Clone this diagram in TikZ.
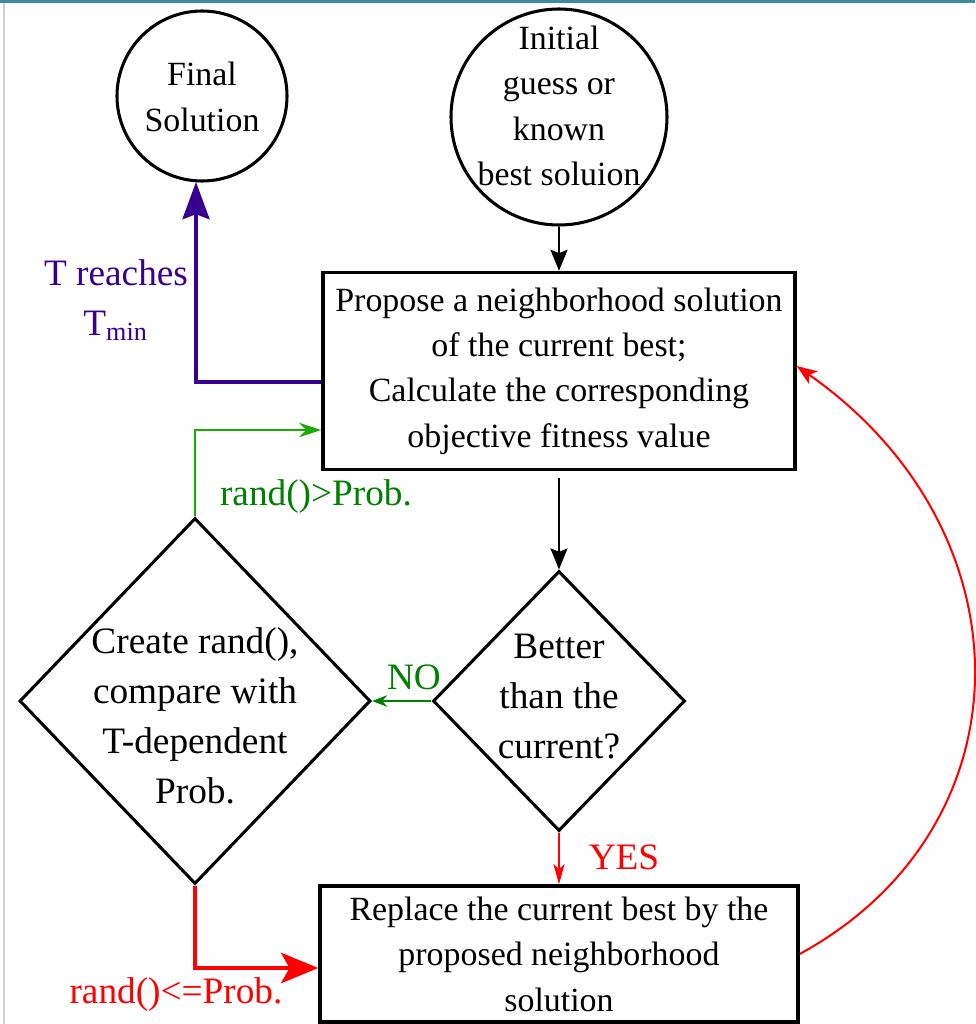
\documentclass[tikz,border=0pt]{standalone}
\usepackage{fontspec}
\setmainfont{Liberation Serif}
\usetikzlibrary{shapes.geometric,arrows.meta}

\def\pxu{0.295pt}
\definecolor{tpurple}{RGB}{55,0,145}
\definecolor{gline}{RGB}{30,170,0}
\definecolor{gtext}{RGB}{0,128,0}
\definecolor{topbar}{RGB}{60,140,160}

\begin{document}
\begin{tikzpicture}[x=\pxu,y=-\pxu,
  boxtext/.style={font=\fontsize{10}{13.4}\selectfont,align=center},
  bigtext/.style={font=\fontsize{11}{14.75}\selectfont,align=center},
  procbox/.style={draw,line width=1pt,rectangle,inner sep=0pt},
  endpoint/.style={draw,line width=0.9pt,circle,inner sep=0pt},
  decision/.style={draw,line width=0.9pt,diamond,inner sep=0pt},
  flow/.style={line width=0.75pt,-{Stealth[length=6.2pt,width=5pt,inset=1pt]}},
  tminflow/.style={tpurple,line width=0.9pt,-{Stealth[length=11pt,width=8pt,inset=1.5pt]}},
  greenflow/.style={gline,line width=0.85pt,-{Stealth[length=6.5pt,width=4.2pt,inset=2pt]}},
  noflow/.style={gtext,line width=0.8pt,-{Stealth[length=4.5pt,width=3.4pt,inset=1.5pt]}},
  yesflow/.style={red,line width=0.5pt,-{Stealth[length=6pt,width=3.3pt,inset=1.5pt]}},
  randflow/.style={red,line width=1pt,-{Stealth[length=11pt,width=9pt,inset=2.5pt]}},
  loopflow/.style={red,line width=0.6pt,-{Stealth[length=6pt,width=4.5pt,inset=1.5pt]}}]
\useasboundingbox (0,0) rectangle (975,1024);
\fill[topbar] (0,0) rectangle (975,3);
\draw[gray!35,line width=1.5*\pxu] (4,3) -- (4,1024);

% terminals
\node[endpoint,minimum size={170*\pxu}] (final) at (202,96) {};
\node[boxtext] (finaltxt) at (202,97) {Final\\Solution};
\node[endpoint,minimum size={216*\pxu}] (init) at (559,117) {};
\node[boxtext] (inittxt) at (559,106) {Initial\\guess or\\known\\best soluion};

% process boxes
\node[procbox,boxtext,minimum width={472*\pxu},minimum height={197*\pxu}] (propose) at (559,371) {Propose a neighborhood solution\\of the current best;\\Calculate the corresponding\\objective fitness value};
\node[procbox,boxtext,minimum width={478*\pxu},minimum height={136*\pxu}] (replace) at (559,954) {Replace the current best by the\\proposed neighborhood\\solution};

% decisions
\node[decision,minimum width={252*\pxu},minimum height={260*\pxu}] (better) at (559,701) {};
\node[bigtext] (bettertxt) at (559,697) {Better\\than the\\current?};
\node[decision,minimum width={351*\pxu},minimum height={366*\pxu}] (rnd) at (195,701) {};
\node[bigtext] (rndtxt) at (195,716) {Create rand(),\\compare with\\T-dependent\\Prob.};

% labels
\node[bigtext,text=tpurple] (tlab) at (116,300) {T reaches\\T\textsubscript{min}};
\node[bigtext,text=gtext] (glab) at (316,497) {rand()>Prob.};
\node[bigtext,text=gtext] (nolab) at (414,677) {NO};
\node[bigtext,text=red] (yeslab) at (624,857) {YES};
\node[bigtext,text=red] (rlab) at (176,995) {rand()<=Prob.};

\coordinate (tturn) at (196,382);
\coordinate (tup) at (196,182);
\coordinate (gup) at (195,430);
\coordinate (rlow) at (195,968);

% connectors
\draw[flow] (init.south) -- (init.south |- propose.north);
\draw[flow] ([yshift=-7*\pxu]propose.south) -- (better.north);
\draw[noflow] (better.west) -- (rnd.east);
\draw[yesflow] (better.south) -- (replace.north);
\draw[tminflow] (tturn -| propose.west) -- (tturn) -- (tup);
\draw[greenflow] (rnd.north) -- (gup) -- (gup -| propose.west);
\draw[randflow] (rnd.south) -- (rlow) -- (rlow -| replace.west);
\draw[loopflow] (replace.east) .. controls (1032,827) and (1032,531) .. ([yshift=5*\pxu]propose.east);
\end{tikzpicture}
\end{document}
